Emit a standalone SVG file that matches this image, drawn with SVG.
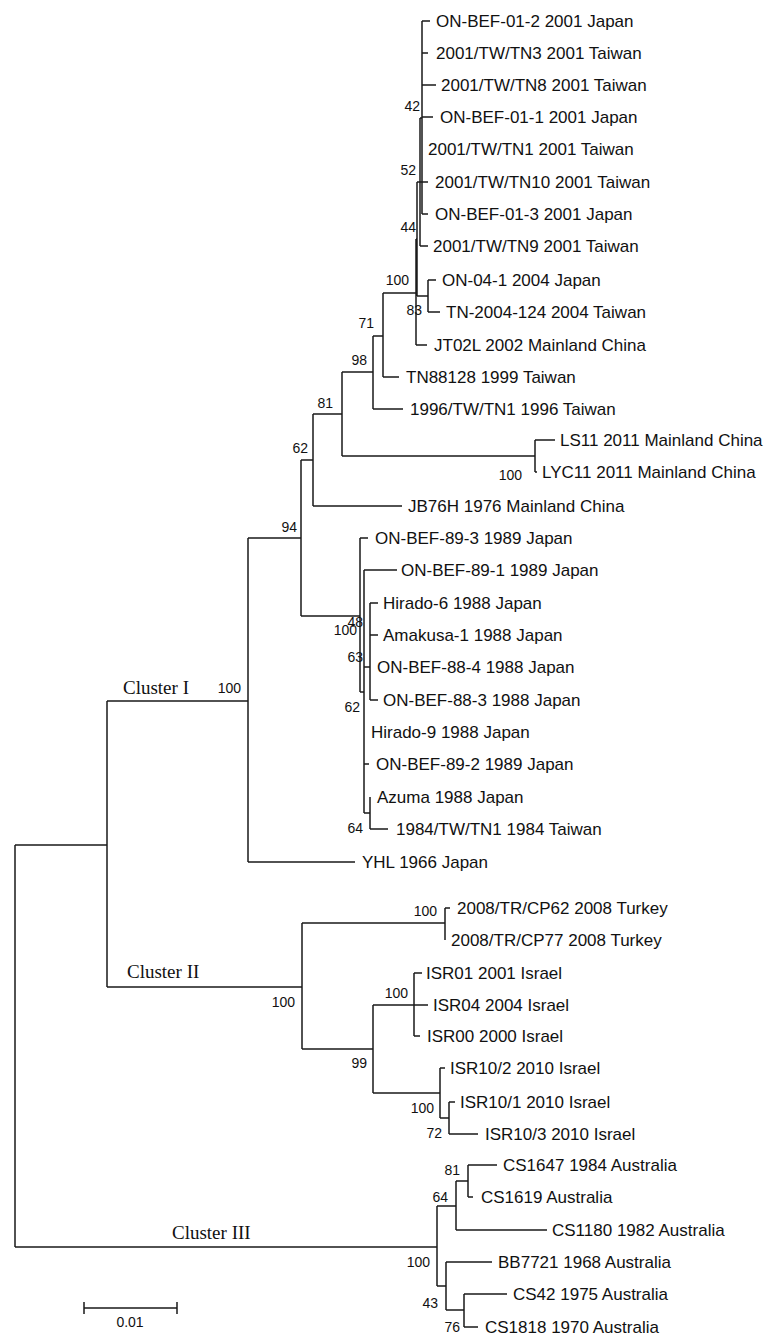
<svg xmlns="http://www.w3.org/2000/svg" width="773" height="1335" viewBox="0 0 773 1335">
<style>
.e{fill:none;stroke:#1a1a1a;stroke-width:1.5}
.l{font-family:"Liberation Sans",Arial,sans-serif;font-size:17px;fill:#111}
.b{font-family:"Liberation Sans",Arial,sans-serif;font-size:14px;fill:#111;text-anchor:end}
.c{font-family:"Liberation Serif","Times New Roman",serif;font-size:19px;fill:#111}
</style>
<rect width="773" height="1335" fill="#fff"/>
<g id="connectors" class="e">
<path d="M15 845V1247M15 845H107M107 701V987M107 701H248M107 987H302M15 1247H437"/>
<path d="M248 538V862M248 862H355M248 538H301M301 460V616M301 460H313M313 414V506M313 506H402M313 414H342M342 372V456M342 456H535M535 440V472M535 440H555M535 472H537"/>
<path d="M342 372H373M373 336V409M373 409H403M373 336H383M383 293V377M383 377H399M383 293H416"/>
<path d="M416 239V345M416 345H427M416 239H417M417 182V296M417 296H428M428 280V312M428 280H436M428 312H440"/>
<path d="M417 182H420M420 118V246M420 246H428M420 182H428M420 118H422M422 21V214M422 21H430M422 53H428M422 85H436M422 117H433M422 214H428"/>
<path d="M301 616H360M360 538V692M360 538H368M360 692H364M364 570V813M364 570H397M364 667H370M370 603V700M370 603H378M370 635H378M370 700H378M364 764H369M364 813H370M370 797V829M370 829H388"/>
<path d="M302 923V1049M302 923H445M445 908V940M445 908H450M302 1049H373M373 1005V1093M373 1005H414M414 973V1036M414 973H422M414 1005H428M414 1036H420M373 1093H440M440 1068V1118M440 1068H445M440 1118H449M449 1102V1134M449 1102H455M449 1134H478"/>
<path d="M437 1206V1286M437 1206H456M456 1181V1230M456 1230H547M456 1181H468M468 1165V1197M468 1165H497M468 1197H473M437 1286H446M446 1262V1310M446 1262H492M446 1310H464M464 1294V1327M464 1294H507M464 1327H478"/>
</g>
<g id="leaves" class="l">
<g id="n1"><text x="436" y="27">ON-BEF-01-2 2001 Japan</text></g>
<g id="n2"><text x="436" y="59">2001/TW/TN3 2001 Taiwan</text></g>
<g id="n3"><text x="441" y="91">2001/TW/TN8 2001 Taiwan</text></g>
<g id="n4"><text x="440" y="123">ON-BEF-01-1 2001 Japan</text></g>
<g id="n5"><text x="428" y="155">2001/TW/TN1 2001 Taiwan</text></g>
<g id="n6"><text x="435" y="188">2001/TW/TN10 2001 Taiwan</text></g>
<g id="n7"><text x="435" y="220">ON-BEF-01-3 2001 Japan</text></g>
<g id="n8"><text x="433" y="252">2001/TW/TN9 2001 Taiwan</text></g>
<g id="n9"><text x="442" y="286">ON-04-1 2004 Japan</text></g>
<g id="n10"><text x="446" y="318">TN-2004-124 2004 Taiwan</text></g>
<g id="n11"><text x="434" y="351">JT02L 2002 Mainland China</text></g>
<g id="n12"><text x="406" y="383">TN88128 1999 Taiwan</text></g>
<g id="n13"><text x="410" y="415">1996/TW/TN1 1996 Taiwan</text></g>
<g id="n14"><text x="560" y="446">LS11 2011 Mainland China</text></g>
<g id="n15"><text x="542" y="478">LYC11 2011 Mainland China</text></g>
<g id="n16"><text x="408" y="512">JB76H 1976 Mainland China</text></g>
<g id="n17"><text x="375" y="544">ON-BEF-89-3 1989 Japan</text></g>
<g id="n18"><text x="401" y="576">ON-BEF-89-1 1989 Japan</text></g>
<g id="n19"><text x="383" y="609">Hirado-6 1988 Japan</text></g>
<g id="n20"><text x="383" y="641">Amakusa-1 1988 Japan</text></g>
<g id="n21"><text x="377" y="673">ON-BEF-88-4 1988 Japan</text></g>
<g id="n22"><text x="383" y="706">ON-BEF-88-3 1988 Japan</text></g>
<g id="n23"><text x="371" y="738">Hirado-9 1988 Japan</text></g>
<g id="n24"><text x="376" y="770">ON-BEF-89-2 1989 Japan</text></g>
<g id="n25"><text x="377" y="803">Azuma 1988 Japan</text></g>
<g id="n26"><text x="396" y="835">1984/TW/TN1 1984 Taiwan</text></g>
<g id="n27"><text x="362" y="868">YHL 1966 Japan</text></g>
<g id="n28"><text x="457" y="914">2008/TR/CP62 2008 Turkey</text></g>
<g id="n29"><text x="451" y="946">2008/TR/CP77 2008 Turkey</text></g>
<g id="n30"><text x="426" y="979">ISR01 2001 Israel</text></g>
<g id="n31"><text x="433" y="1011">ISR04 2004 Israel</text></g>
<g id="n32"><text x="427" y="1042">ISR00 2000 Israel</text></g>
<g id="n33"><text x="450" y="1074">ISR10/2 2010 Israel</text></g>
<g id="n34"><text x="460" y="1108">ISR10/1 2010 Israel</text></g>
<g id="n35"><text x="485" y="1140">ISR10/3 2010 Israel</text></g>
<g id="n36"><text x="503" y="1171">CS1647 1984 Australia</text></g>
<g id="n37"><text x="481" y="1203">CS1619 Australia</text></g>
<g id="n38"><text x="552" y="1236">CS1180 1982 Australia</text></g>
<g id="n39"><text x="498" y="1268">BB7721 1968 Australia</text></g>
<g id="n40"><text x="513" y="1300">CS42 1975 Australia</text></g>
<g id="n41"><text x="485" y="1333">CS1818 1970 Australia</text></g>
</g>
<g id="bootstrap" class="b">
<text x="420" y="111">42</text>
<text x="416" y="175">52</text>
<text x="416" y="232">44</text>
<text x="409" y="285">100</text>
<text x="422" y="315">83</text>
<text x="374" y="328">71</text>
<text x="367" y="365">98</text>
<text x="333" y="408">81</text>
<text x="522" y="480">100</text>
<text x="308" y="453">62</text>
<text x="297" y="532">94</text>
<text x="357" y="635">100</text>
<text x="363" y="627">48</text>
<text x="363" y="662">63</text>
<text x="360" y="712">62</text>
<text x="363" y="833">64</text>
<text x="241" y="693">100</text>
<text x="437" y="916">100</text>
<text x="295" y="1007">100</text>
<text x="408" y="998">100</text>
<text x="367" y="1068">99</text>
<text x="434" y="1113">100</text>
<text x="442" y="1138">72</text>
<text x="460" y="1175">81</text>
<text x="448" y="1202">64</text>
<text x="430" y="1267">100</text>
<text x="438" y="1308">43</text>
<text x="460" y="1332">76</text>
</g>
<g id="clusters" class="c">
<text x="123" y="694">Cluster I</text>
<text x="127" y="978">Cluster II</text>
<text x="172" y="1239">Cluster III</text>
</g>
<g id="scalebar">
<path class="e" d="M84 1308H177M84 1302V1314M177 1302V1314"/>
<text class="b" x="130" y="1327" style="text-anchor:middle">0.01</text>
</g>
</svg>
